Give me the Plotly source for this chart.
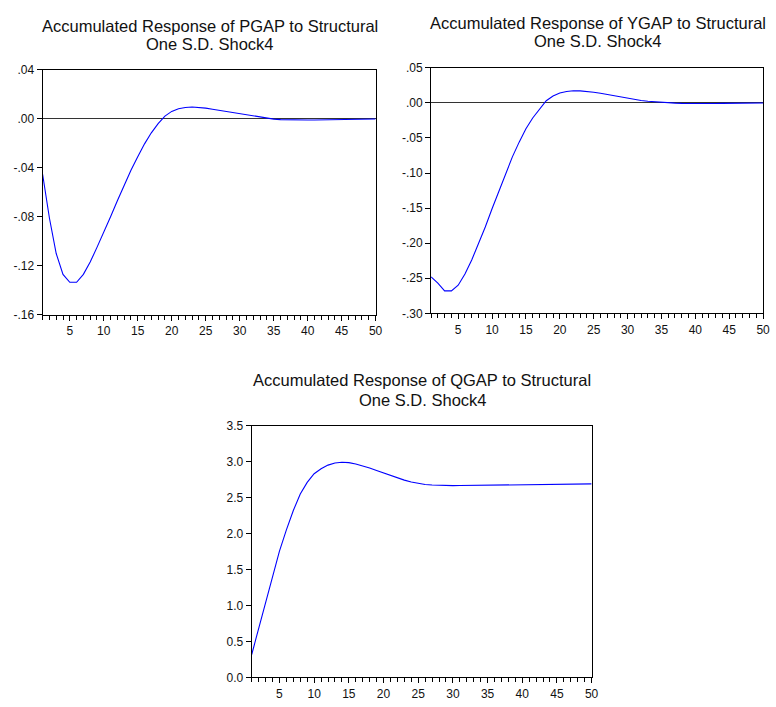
import plotly.graph_objects as go

W, H = 776, 707

periods = list(range(1, 51))

pgap = [-0.0453, -0.081, -0.110, -0.127, -0.1335, -0.1335, -0.127, -0.117, -0.105, -0.093,
        -0.080, -0.067, -0.054, -0.042, -0.031, -0.0205, -0.0115, -0.0040, 0.0022, 0.0060,
        0.0081, 0.0092, 0.0096, 0.0094, 0.0087, 0.0078, 0.0069, 0.0059, 0.0050, 0.0040,
        0.0030, 0.0020, 0.0011, 0.0003, -0.0003, -0.0007, -0.0009, -0.0010, -0.0010, -0.0010,
        -0.0010, -0.0009, -0.0008, -0.0007, -0.0006, -0.0005, -0.0004, -0.0003, -0.0002, -0.0002]

ygap = [-0.248, -0.257, -0.268, -0.268, -0.260, -0.244, -0.224, -0.201, -0.177, -0.151,
        -0.126, -0.100, -0.077, -0.056, -0.037, -0.0216, -0.0088, 0.0030, 0.0097, 0.0140,
        0.0162, 0.0172, 0.0171, 0.0164, 0.0152, 0.0136, 0.0118, 0.0099, 0.0080, 0.0062,
        0.0047, 0.0034, 0.0023, 0.0014, 0.0006, 0.0000, -0.0004, -0.0007, -0.0009, -0.0010,
        -0.0010, -0.0010, -0.0009, -0.0008, -0.0007, -0.0006, -0.0005, -0.0004, -0.0003, -0.0002]

qgap = [0.319, 0.684, 1.04, 1.40, 1.755, 2.05, 2.32, 2.55, 2.71, 2.83,
        2.90, 2.95, 2.98, 2.99, 2.985, 2.965, 2.94, 2.91, 2.875, 2.84,
        2.805, 2.772, 2.742, 2.716, 2.696, 2.682, 2.673, 2.668, 2.665, 2.665,
        2.666, 2.667, 2.668, 2.670, 2.672, 2.673, 2.675, 2.677, 2.678, 2.680,
        2.682, 2.683, 2.684, 2.685, 2.686, 2.687, 2.688, 2.689, 2.690, 2.690]

x_tickvals = [5, 10, 15, 20, 25, 30, 35, 40, 45, 50]
x_ticktext = ["5", "10", "15", "20", "25", "30", "35", "40", "45", "50"]

pgap_tickvals = [0.04, 0.0, -0.04, -0.08, -0.12, -0.16]
pgap_ticktext = [".04", ".00", "-.04", "-.08", "-.12", "-.16"]
ygap_tickvals = [0.05, 0.0, -0.05, -0.10, -0.15, -0.20, -0.25, -0.30]
ygap_ticktext = [".05", ".00", "-.05", "-.10", "-.15", "-.20", "-.25", "-.30"]
qgap_tickvals = [3.5, 3.0, 2.5, 2.0, 1.5, 1.0, 0.5, 0.0]
qgap_ticktext = ["3.5", "3.0", "2.5", "2.0", "1.5", "1.0", "0.5", "0.0"]

title_line1 = ["Accumulated Response of PGAP to Structural",
               "Accumulated Response of YGAP to Structural",
               "Accumulated Response of QGAP to Structural"]
title_line2 = ["One S.D. Shock4", "One S.D. Shock4", "One S.D. Shock4"]

FONT = "Liberation Sans, Arial, sans-serif"

# pixel boxes: (left, right, top, bottom)
boxes = [(43, 379, 64, 314), (435, 770, 62, 312.5), (254, 597, 427, 684)]
title_pos = [(211.5, 19, 38), (603, 16, 35), (426, 381, 401)]

series = [pgap, ygap, qgap]
yranges = [[-0.16, 0.04], [-0.30, 0.05], [0.0, 3.5]]
ytv = [pgap_tickvals, ygap_tickvals, qgap_tickvals]
ytt = [pgap_ticktext, ygap_ticktext, qgap_ticktext]
zeroln = [True, True, False]

fig = go.Figure()
annotations = []
for i in range(3):
    l, r, t, b = boxes[i]
    xa = "x" if i == 0 else f"x{i+1}"
    ya = "y" if i == 0 else f"y{i+1}"
    fig.add_trace(go.Scatter(x=periods, y=series[i], mode="lines",
                             line=dict(color="#0000FF", width=1.1),
                             xaxis=xa, yaxis=ya, showlegend=False,
                             hoverinfo="skip"))
    xkey = "xaxis" if i == 0 else f"xaxis{i+1}"
    ykey = "yaxis" if i == 0 else f"yaxis{i+1}"
    fig.update_layout(**{
        xkey: dict(domain=[l / W, r / W], range=[1, 50], anchor=ya,
                   tickmode="array", tickvals=x_tickvals, ticktext=x_ticktext,
                   ticks="outside", ticklen=5, tickwidth=1, tickcolor="black",
                   minor=dict(dtick=1, tick0=0, ticks="outside", ticklen=4,
                              tickwidth=1, tickcolor="black"),
                   showline=True, linecolor="black", linewidth=1, mirror=True,
                   showgrid=False, zeroline=False,
                   tickfont=dict(family=FONT, size=12, color="#111")),
        ykey: dict(domain=[1 - b / H, 1 - t / H], range=yranges[i], anchor=xa,
                   tickmode="array", tickvals=ytv[i], ticktext=ytt[i],
                   ticks="outside", ticklen=5, tickwidth=1, tickcolor="black",
                   showline=True, linecolor="black", linewidth=1, mirror=True,
                   showgrid=False, zeroline=zeroln[i], zerolinecolor="#333",
                   zerolinewidth=1,
                   tickfont=dict(family=FONT, size=12, color="#111")),
    })
    cx, y1, y2 = title_pos[i]
    for txt, yy in ((title_line1[i], y1), (title_line2[i], y2)):
        annotations.append(dict(text=txt, x=cx / W, y=1 - yy / H,
                                xref="paper", yref="paper",
                                xanchor="center", yanchor="middle",
                                showarrow=False,
                                font=dict(family=FONT, size=16.5, color="#111")))

fig.update_layout(width=W, height=H, autosize=False,
                  margin=dict(l=0, r=0, t=0, b=0),
                  paper_bgcolor="white", plot_bgcolor="white",
                  annotations=annotations)

fig.write_html("out.html")
